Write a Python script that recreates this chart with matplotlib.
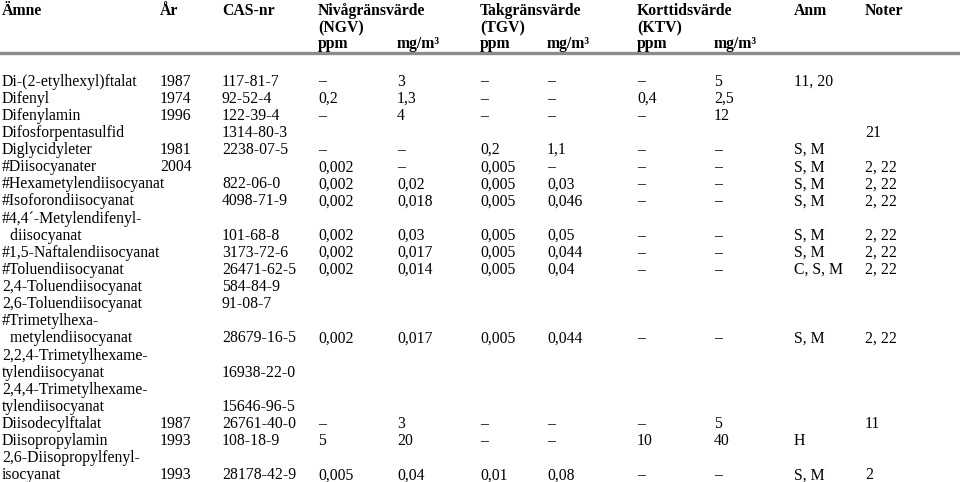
import matplotlib.pyplot as plt

plt.rcParams['font.family'] = ['Liberation Serif', 'DejaVu Serif']

# Table contents
substances = [
    "Di-(2-etylhexyl)ftalat", "Difenyl", "Difenylamin", "Difosforpentasulfid",
    "Diglycidyleter", "#Diisocyanater", "#Hexametylendiisocyanat",
    "#Isoforondiisocyanat", "#4,4´-Metylendifenyl-\n  diisocyanat",
    "#1,5-Naftalendiisocyanat", "#Toluendiisocyanat", "2,4-Toluendiisocyanat",
    "2,6-Toluendiisocyanat", "#Trimetylhexa-\n  metylendiisocyanat",
    "2,2,4-Trimetylhexame-\ntylendiisocyanat", "2,4,4-Trimetylhexame-\ntylendiisocyanat",
    "Diisodecylftalat", "Diisopropylamin", "2,6-Diisopropylfenyl-\nisocyanat",
]
years = ["1987", "1974", "1996", "", "1981", "2004", "", "", "", "", "", "", "",
         "", "", "", "1987", "1993", "1993"]
cas_nr = ["117-81-7", "92-52-4", "122-39-4", "1314-80-3", "2238-07-5", "",
          "822-06-0", "4098-71-9", "101-68-8", "3173-72-6", "26471-62-5",
          "584-84-9", "91-08-7", "28679-16-5", "16938-22-0", "15646-96-5",
          "26761-40-0", "108-18-9", "28178-42-9"]
ngv_ppm = ["–", "0,2", "–", "", "–", "0,002", "0,002", "0,002", "0,002", "0,002",
           "0,002", "", "", "0,002", "", "", "–", "5", "0,005"]
ngv_mg = ["3", "1,3", "4", "", "–", "–", "0,02", "0,018", "0,03", "0,017",
          "0,014", "", "", "0,017", "", "", "3", "20", "0,04"]
tgv_ppm = ["–", "–", "–", "", "0,2", "0,005", "0,005", "0,005", "0,005", "0,005",
           "0,005", "", "", "0,005", "", "", "–", "–", "0,01"]
tgv_mg = ["–", "–", "–", "", "1,1", "–", "0,03", "0,046", "0,05", "0,044",
          "0,04", "", "", "0,044", "", "", "–", "–", "0,08"]
ktv_ppm = ["–", "0,4", "–", "", "–", "–", "–", "–", "–", "–", "–", "", "", "–",
           "", "", "–", "10", "–"]
ktv_mg = ["5", "2,5", "12", "", "–", "–", "–", "–", "–", "–", "–", "", "", "–",
          "", "", "5", "40", "–"]
anm = ["11, 20", "", "", "", "S, M", "S, M", "S, M", "S, M", "S, M", "S, M",
       "C, S, M", "", "", "S, M", "", "", "", "H", "S, M"]
noter = ["", "", "", "21", "", "2, 22", "2, 22", "2, 22", "2, 22", "2, 22",
         "2, 22", "", "", "2, 22", "", "", "11", "", "2"]

header = [
    ("Ämne", 0, 0), ("År", 1, 0), ("CAS-nr", 2, 0),
    ("Nivågränsvärde", 3, 0), ("(NGV)", 3, 1), ("ppm", 3, 2), ("mg/m³", 4, 2),
    ("Takgränsvärde", 5, 0), ("(TGV)", 5, 1), ("ppm", 5, 2), ("mg/m³", 6, 2),
    ("Korttidsvärde", 7, 0), ("(KTV)", 7, 1), ("ppm", 7, 2), ("mg/m³", 8, 2),
    ("Anm", 9, 0), ("Noter", 10, 0),
]

# layout (pixels, baselines)
col_x = [2, 160, 222, 318, 397, 480, 547, 637, 714, 794, 865]
head_y = [15, 32, 48.5]
first_y = 85.5
pitch = 17.13
fs = 11.3

fig = plt.figure(figsize=(9.6, 4.82), dpi=100)
ax = fig.add_axes([0, 0, 1, 1])
ax.set_xlim(0, 960)
ax.set_ylim(482, 0)
ax.axis('off')

for txt, c, r in header:
    ax.text(col_x[c], head_y[r], txt, fontsize=fs, fontweight='bold',
            ha='left', va='baseline')

ax.axhline(52.5, color='#8c8c8c', linewidth=2.4)

line = 0
cols = [years, cas_nr, ngv_ppm, ngv_mg, tgv_ppm, tgv_mg, ktv_ppm, ktv_mg, anm, noter]
for i, name in enumerate(substances):
    parts = name.split("\n")
    for p in parts:
        ax.text(col_x[0], first_y + line * pitch, p, fontsize=fs, ha='left', va='baseline')
        line += 1
    y = first_y + (line - 1) * pitch
    for j, col in enumerate(cols):
        if col[i]:
            ax.text(col_x[j + 1], y, col[i], fontsize=fs, ha='left', va='baseline')

fig.savefig("out.png", dpi=100)
